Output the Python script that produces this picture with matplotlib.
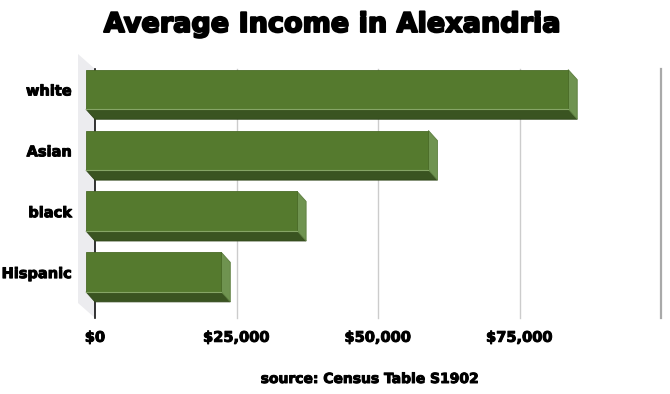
import matplotlib
matplotlib.use("Agg")
import matplotlib.pyplot as plt
import matplotlib.patheffects as pe
from matplotlib.patches import Polygon

# data
categories = ["white", "Asian", "black", "Hispanic"]
incomes = [85200, 60500, 37300, 23900]
tick_values = [0, 25000, 50000, 75000]
tick_labels = ["$0", "$25,000", "$50,000", "$75,000"]
grid_values = [25000, 50000, 75000, 100000]

title = "Average Income in Alexandria"
source = "source: Census Table S1902"

W, H, DPI = 670, 394, 100
fig = plt.figure(figsize=(W / DPI, H / DPI), dpi=DPI)

# back plane of the 3d plot area, in pixels
left_px, right_px, top_px, bottom_px = 95, 661, 69, 318
ax = fig.add_axes([left_px / W, 1 - bottom_px / H,
                   (right_px - left_px) / W, (bottom_px - top_px) / H])

xmin, xmax = 0, 100000
ymin, ymax = -0.59, 3.5
ax.set_xlim(xmin, xmax)
ax.set_ylim(ymin, ymax)
for s in ax.spines.values():
    s.set_visible(False)

# pixel -> data conversion for the fake depth
px_x = (xmax - xmin) / (right_px - left_px)
px_y = (ymax - ymin) / (bottom_px - top_px)
dx, dy = -9 * px_x, 10 * px_y          # bar front face offset
wdx, wdy = -17 * px_x, 15 * px_y       # side wall depth

# left wall
ax.add_patch(Polygon([(0, ymin), (0, ymax), (wdx, ymax + wdy), (wdx, ymin + wdy)],
                     closed=True, facecolor="#ececef", edgecolor="none",
                     clip_on=False, zorder=0))
ax.plot([0, 0], [ymin, ymax], color="#111111", lw=1.2, zorder=1, clip_on=False)

# gridlines on the back wall
for g in grid_values:
    c = "#a9a9a9" if g == grid_values[-1] else "#cccccc"
    lw = 1.6 if g == grid_values[-1] else 1.0
    ax.plot([g, g], [ymin, ymax], color=c, lw=lw, zorder=1, clip_on=False)

front_c, bottom_c, side_c = "#557a2e", "#3a5421", "#6f9350"
hh = 0.325
n = len(categories)
positions = [n - 1 - i for i in range(n)]

for pos, v in zip(positions, incomes):
    y0, y1 = pos - hh, pos + hh
    bottom = [(dx, y0 + dy), (v + dx, y0 + dy), (v, y0), (0, y0)]
    side = [(v + dx, y0 + dy), (v + dx, y1 + dy), (v, y1), (v, y0)]
    front = [(dx, y0 + dy), (v + dx, y0 + dy), (v + dx, y1 + dy), (dx, y1 + dy)]
    ax.add_patch(Polygon(bottom, closed=True, facecolor=bottom_c,
                         edgecolor="#2f4519", lw=0.6, clip_on=False, zorder=3))
    ax.add_patch(Polygon(side, closed=True, facecolor=side_c,
                         edgecolor="#5b7d3d", lw=0.6, clip_on=False, zorder=3))
    ax.add_patch(Polygon(front, closed=True, facecolor=front_c,
                         edgecolor="#4a6b27", lw=0.6, clip_on=False, zorder=4))
    ax.plot([dx, v + dx], [y0 + dy, y0 + dy], color="#86a566", lw=0.8,
            zorder=5, clip_on=False)

heavy = [pe.withStroke(linewidth=0.7, foreground="black")]

ax.set_yticks([p + dy for p in positions])
ax.set_yticklabels(categories, fontsize=10.5, fontweight="bold")
ax.set_xticks(tick_values)
ax.set_xticklabels(tick_labels, fontsize=10.5, fontweight="bold")
ax.tick_params(axis="y", length=0, pad=16.5)
ax.tick_params(axis="x", length=0, pad=8.5)
for lab in ax.get_xticklabels() + ax.get_yticklabels():
    lab.set_path_effects(heavy)

fig.text(0.496, 1 - 32 / H, title, ha="center", va="baseline",
         fontsize=19.5, fontweight="bold",
         path_effects=[pe.withStroke(linewidth=1.4, foreground="black")])
fig.text(370 / W, 1 - 379 / H, source, ha="center", va="center",
         fontsize=10, fontweight="bold", path_effects=heavy)

fig.savefig("out.png", dpi=DPI)
